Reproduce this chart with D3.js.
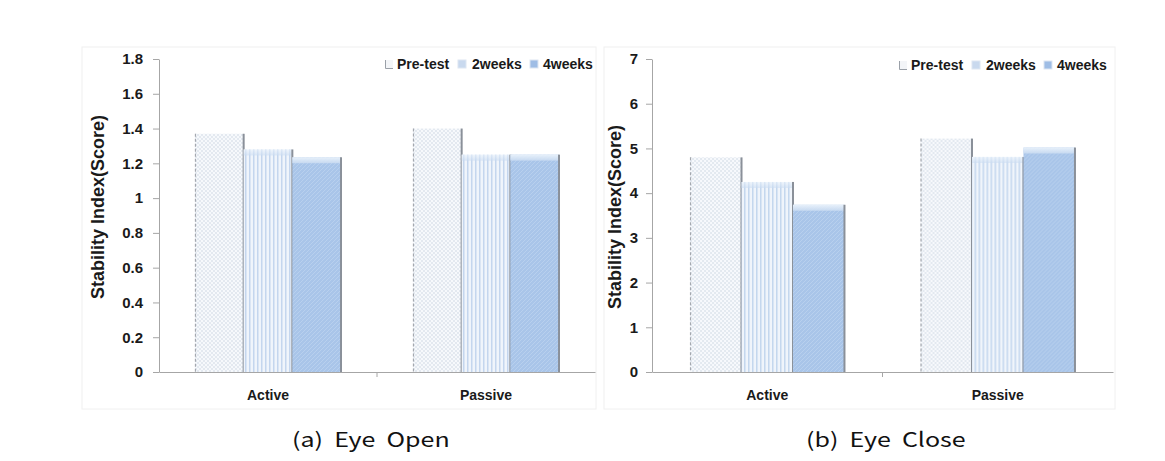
<!DOCTYPE html>
<html>
<head>
<meta charset="utf-8">
<script src="https://cdn.jsdelivr.net/npm/d3@7"></script>
<style>
  body { margin: 0; background: #fff; }
  text { font-family: "Liberation Sans", Arial, sans-serif; }
</style>
</head>
<body>
<div id="chart"></div>
<script>
var svgWidth = 1165;
var svgHeight = 461;

// data
var categories = ["Active", "Passive"];
var seriesNames = ["Pre-test", "2weeks", "4weeks"];

var openPre = [1.37, 1.40];
var open2w = [1.28, 1.25];
var open4w = [1.235, 1.25];
var openTicks = [0, 0.2, 0.4, 0.6, 0.8, 1, 1.2, 1.4, 1.6, 1.8];

var closePre = [4.80, 5.22];
var close2w = [4.25, 4.81];
var close4w = [3.74, 5.02];
var closeTicks = [0, 1, 2, 3, 4, 5, 6, 7];

var captions = ["(a)  Eye  Open", "(b)  Eye  Close"];

var svg = d3.select("#chart")
  .append("svg")
  .attr("width", svgWidth)
  .attr("height", svgHeight);

// patterns for the three series
var defs = svg.append("defs");

var pDots = defs.append("pattern").attr("id", "dots")
  .attr("width", 4).attr("height", 4).attr("patternUnits", "userSpaceOnUse");
pDots.append("rect").attr("width", 4).attr("height", 4).attr("fill", "#f7f9fc");
pDots.append("circle").attr("cx", 1).attr("cy", 1).attr("r", 0.8).attr("fill", "#cbd5e2");
pDots.append("circle").attr("cx", 3).attr("cy", 3).attr("r", 0.8).attr("fill", "#cbd5e2");

var pStripe = defs.append("pattern").attr("id", "stripes")
  .attr("width", 4).attr("height", 4).attr("patternUnits", "userSpaceOnUse");
pStripe.append("rect").attr("width", 4).attr("height", 4).attr("fill", "#f0f5fb");
pStripe.append("rect").attr("x", 2).attr("width", 1.5).attr("height", 4).attr("fill", "#c3d6ee");

var pBlue = defs.append("pattern").attr("id", "blue")
  .attr("width", 4).attr("height", 4).attr("patternUnits", "userSpaceOnUse");
pBlue.append("rect").attr("width", 4).attr("height", 4).attr("fill", "#a9c5e9");
pBlue.append("path").attr("d", "M0,4L4,0").attr("stroke", "#bdd3ef").attr("stroke-width", 0.8);

var capGrad = defs.append("linearGradient").attr("id", "cap")
  .attr("x1", 0).attr("y1", 0).attr("x2", 0).attr("y2", 1);
capGrad.append("stop").attr("offset", "0%").attr("stop-color", "#eef5fc");
capGrad.append("stop").attr("offset", "100%").attr("stop-color", "#c9dbf1");

var fills = ["url(#dots)", "url(#stripes)", "url(#blue)"];
var swatch = ["#f3f5f8", "#c9d9ee", "#9fbde5"];

function drawChart(o) {
  var g = svg.append("g");

  // faint chart area border
  g.append("rect")
    .attr("x", o.box[0]).attr("y", o.box[1])
    .attr("width", o.box[2] - o.box[0]).attr("height", o.box[3] - o.box[1])
    .attr("fill", "none").attr("stroke", "#f0f0f0");

  var x0 = d3.scaleBand().domain(categories)
    .range([o.left, o.right]).paddingInner(0.33).paddingOuter(0.165);
  var x1 = d3.scaleBand().domain(seriesNames).range([0, x0.bandwidth()]);
  var y = d3.scaleLinear().domain([0, o.max]).range([o.bottom, o.top]);

  var rows = categories.map(function(c, i) {
    return { cat: c, vals: o.series.map(function(s) { return s[i]; }) };
  });

  var groups = g.selectAll(".grp").data(rows).enter().append("g")
    .attr("transform", d => `translate(${x0(d.cat)},0)`);

  var bars = groups.selectAll(".bar")
    .data(d => d.vals.map((v, k) => ({ k: k, v: v })))
    .enter().append("g");

  bars.append("rect")
    .attr("x", d => x1(seriesNames[d.k]))
    .attr("y", d => y(d.v))
    .attr("width", x1.bandwidth())
    .attr("height", d => o.bottom - y(d.v))
    .attr("fill", d => fills[d.k]);

  // light top cap on the 2 and 4 weeks bars
  bars.filter(d => d.k > 0).append("rect")
    .attr("x", d => x1(seriesNames[d.k]))
    .attr("y", d => y(d.v))
    .attr("width", x1.bandwidth())
    .attr("height", 6)
    .attr("fill", "url(#cap)")
    .attr("opacity", d => d.k == 2 ? 0.9 : 0.6);

  // dark right edge
  bars.append("line")
    .attr("x1", d => x1(seriesNames[d.k]) + x1.bandwidth())
    .attr("x2", d => x1(seriesNames[d.k]) + x1.bandwidth())
    .attr("y1", d => y(d.v))
    .attr("y2", o.bottom)
    .attr("stroke", "#8a9099").attr("stroke-width", 2);

  // dashed left edge on the pre-test bar
  bars.filter(d => d.k == 0).append("line")
    .attr("x1", d => x1(seriesNames[d.k]) + 0.5)
    .attr("x2", d => x1(seriesNames[d.k]) + 0.5)
    .attr("y1", d => y(d.v))
    .attr("y2", o.bottom)
    .attr("stroke", "#a4a8ae").attr("stroke-width", 1.2)
    .attr("stroke-dasharray", "3,2");

  // axes
  var leftAxis = d3.axisLeft(y).tickValues(o.ticks).tickSize(6).tickSizeOuter(0)
    .tickFormat(d3.format("~g"));
  var yAx = g.append("g").attr("transform", `translate(${o.left},0)`).call(leftAxis);
  yAx.select(".domain").attr("stroke", "#a6a6a6");
  yAx.selectAll(".tick line").attr("stroke", "#a6a6a6");
  yAx.selectAll(".tick text")
    .attr("x", o.tickX)
    .attr("fill", "#1a1a1a")
    .style("font-size", "15px").style("font-weight", "bold")
    .style("font-family", "Liberation Sans, Arial, sans-serif");

  var bottomAxis = d3.axisBottom(x0).tickSize(0).tickSizeOuter(0);
  var xAx = g.append("g").attr("transform", `translate(0,${o.bottom})`).call(bottomAxis);
  xAx.select(".domain").attr("stroke", "#a6a6a6");
  xAx.selectAll(".tick text")
    .attr("y", 18)
    .attr("fill", "#1a1a1a")
    .style("font-size", "14px").style("font-weight", "bold")
    .style("font-family", "Liberation Sans, Arial, sans-serif");
  // divider tick between the categories
  g.append("line")
    .attr("x1", (o.left + o.right) / 2).attr("x2", (o.left + o.right) / 2)
    .attr("y1", o.bottom).attr("y2", o.bottom + 5)
    .attr("stroke", "#a6a6a6");

  // y axis title
  g.append("text")
    .attr("transform", `translate(${o.titleX},${o.titleY}) rotate(-90)`)
    .attr("text-anchor", "middle")
    .attr("dy", "0.35em")
    .attr("fill", "#1a1a1a")
    .style("font-size", "18px").style("font-weight", "bold")
    .text("Stability Index(Score)");

  // legend
  var leg = g.append("g").attr("transform", `translate(${o.legX},${o.legY})`);
  var offs = [0, 73, 145];
  var txtOff = [12, 14, 13];
  seriesNames.forEach(function(s, k) {
    var lg = leg.append("g").attr("transform", `translate(${offs[k]},0)`);
    lg.append("rect").attr("x", 0).attr("y", -4).attr("width", 8).attr("height", 8)
      .attr("fill", swatch[k]).attr("stroke", k == 0 ? "none" : "#dde6f2");
    if (k == 0) {
      lg.append("path").attr("d", "M0.5,-4V4.5H8").attr("fill", "none")
        .attr("stroke", "#9aa0a8").attr("stroke-width", 1);
    }
    lg.append("text").attr("x", txtOff[k]).attr("dy", "0.35em")
      .attr("fill", "#1a1a1a")
      .style("font-size", "14px").style("font-weight", "bold")
      .text(s);
  });
}

drawChart({
  series: [openPre, open2w, open4w], max: 1.8, ticks: openTicks,
  left: 159, right: 595, top: 59, bottom: 372, tickX: -16,
  box: [82, 47, 596, 409], titleX: 98, titleY: 207, legX: 385, legY: 64
});

drawChart({
  series: [closePre, close2w, close4w], max: 7, ticks: closeTicks,
  left: 652, right: 1113, top: 59, bottom: 372, tickX: -14,
  box: [604, 47, 1115, 409], titleX: 615, titleY: 217, legX: 899, legY: 65
});

// captions under each panel (the source is stretched sideways)
svg.selectAll(".cap").data(captions).enter().append("text")
  .attr("transform", (d, i) => `translate(${i == 0 ? 292 : 806},447) scale(1.25,1)`)
  .attr("xml:space", "preserve")
  .style("white-space", "pre")
  .style("font-family", "'Noto Sans CJK KR', 'Noto Sans', sans-serif")
  .style("font-size", "20px")
  .attr("fill", "#111")
  .text(d => d);
</script>
</body>
</html>
